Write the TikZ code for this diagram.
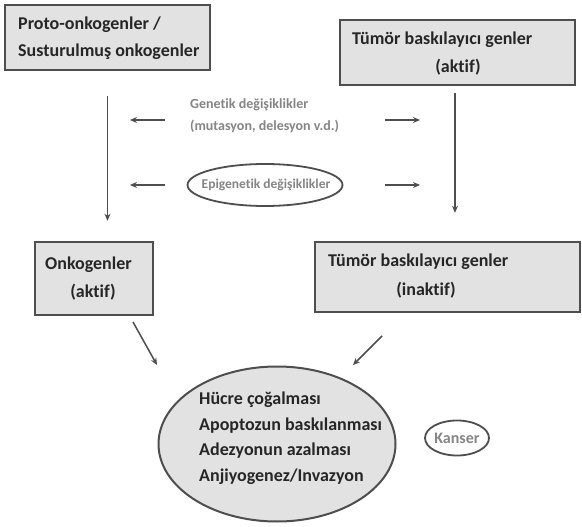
\documentclass[tikz,border=0pt]{standalone}
\usepackage{fontspec}
\setmainfont{Carlito}[Ligatures=NoCommon]
\usetikzlibrary{shapes.geometric,arrows.meta}
\definecolor{boxfill}{HTML}{E2E2E2}
\definecolor{boxline}{HTML}{4E4E4E}
\definecolor{txtgray}{HTML}{858585}
\definecolor{txtdark}{HTML}{262626}
\begin{document}
\begin{tikzpicture}[x=1pt,y=-1pt,
 box/.style={draw=boxline, line width=2.5pt, fill=boxfill, inner sep=0pt},
 lbl/.style={font=\fontsize{18}{27}\selectfont\bfseries, text=txtdark, inner sep=0pt},
 glbl/.style={font=\fontsize{14}{22}\selectfont\bfseries, text=txtgray, inner sep=0pt},
 oval/.style={ellipse, draw=boxline, line width=2pt, inner sep=0pt},
 arr/.style={draw=boxline, line width=1.5pt, -{Stealth[length=7pt,width=6pt]}}]
\useasboundingbox[fill=white] (0,0) rectangle (582,527);
% boxes
\node[box, minimum width=205pt, minimum height=65pt] (b1) at (107.5,37.5) {};
\node[box, minimum width=235pt, minimum height=65pt] (b2) at (457.5,52.5) {};
\node[box, minimum width=118pt, minimum height=73pt] (b3) at (94,278.5) {};
\node[box, minimum width=265pt, minimum height=70pt] (b4) at (447.5,277) {};
% box texts
\node[lbl, anchor=west, align=left] (t1) at (18,38) {Proto-onkogenler /\\Susturulmuş onkogenler};
\node[lbl, anchor=west] (t2a) at (352,40) {Tümör baskılayıcı genler};
\node[lbl] (t2b) at (458,67) {(aktif)};
\node[lbl, anchor=west] (t3a) at (45,265) {Onkogenler};
\node[lbl] (t3b) at (93,292) {(aktif)};
\node[lbl, anchor=west] (t4a) at (328,262) {Tümör baskılayıcı genler};
\node[lbl] (t4b) at (426,290) {(inaktif)};
% middle
\node[glbl, anchor=west, align=left] (gen) at (190,116) {Genetik değişiklikler\\(mutasyon, delesyon v.d.)};
\node[oval, line width=1.8pt, fill=white, minimum width=155pt, minimum height=42pt] (epi) at (265,185) {};
\node[glbl, font=\fontsize{13.5}{16}\selectfont\bfseries] (epit) at (266,185) {Epigenetik değişiklikler};
% big ellipse
\node[oval, fill=boxfill, minimum width=237pt, minimum height=155pt] (big) at (277,444) {};
\node[lbl, anchor=west, align=left, font=\fontsize{18}{25.5}\selectfont\bfseries] (bigt) at (199,438) {Hücre çoğalması\\Apoptozun baskılanması\\Adezyonun azalması\\Anjiyogenez/Invazyon};
\node[oval, line width=1.8pt, fill=white, minimum width=64pt, minimum height=35pt] (kan) at (457,438) {};
\node[glbl, font=\fontsize{16}{18}\selectfont\bfseries] (kant) at (457,438) {Kanser};
% vertical arrows
\coordinate (v2s) at ([yshift=-7pt,xshift=-2.5pt]b2.south);
\draw[arr] ([yshift=-25pt]b1.south) -- ([yshift=20pt]b3.north -| b1.south);
\draw[arr] (v2s) -- ([yshift=28pt]b4.north -| v2s);
% horizontal arrows
\coordinate (gl) at (165,120); \coordinate (gle) at (130,120);
\coordinate (gr) at (385,120); \coordinate (gre) at (420,120);
\coordinate (el) at (165,185); \coordinate (ele) at (130,185);
\coordinate (er) at (385,185); \coordinate (ere) at (420,185);
\draw[arr] (gl) -- (gle);
\draw[arr] (gr) -- (gre);
\draw[arr] (el) -- (ele);
\draw[arr] (er) -- (ere);
% diagonal arrows
\coordinate (d1s) at (133,322); \coordinate (d1e) at (157,365);
\coordinate (d2s) at (382,336); \coordinate (d2e) at (353,365);
\draw[arr] (d1s) -- (d1e);
\draw[arr] (d2s) -- (d2e);
\end{tikzpicture}
\end{document}
